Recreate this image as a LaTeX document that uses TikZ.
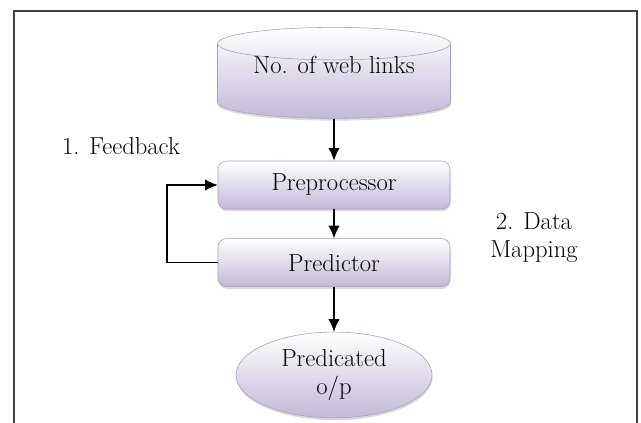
\documentclass[tikz,border=0pt]{standalone}
\usepackage{tikz}
\usetikzlibrary{shapes.geometric, arrows.meta, positioning, shadows}

\definecolor{lilac}{HTML}{C4B8D8}
\definecolor{lilacedge}{HTML}{A89DBA}

\begin{document}
\begin{tikzpicture}[
  font=\fontsize{17.5}{20}\selectfont,
  stage/.style={draw=lilacedge, rounded corners=6pt, top color=white, bottom color=lilac,
    minimum width=5.8cm, minimum height=1.2cm,
    drop shadow={shadow xshift=0.4pt, shadow yshift=-1.6pt, opacity=0.3}},
  flow/.style={-{Latex[length=9pt, width=8pt]}, thick}
]
  \useasboundingbox (0,0) rectangle (16.025,10.575);
  % frame
  \draw[thick, black!75] (0.35,-0.2) -- (0.35,10.3) -- (15.925,10.3) -- (15.925,-0.2);
  \node[cylinder, shape border rotate=90, aspect=0.19, draw=lilacedge, top color=white,
    bottom color=lilac, minimum width=5.825cm, minimum height=2.275cm,
    drop shadow={shadow xshift=0.4pt, shadow yshift=-1.6pt, opacity=0.3}] (links) at (8.35,8.49) {\phantom{No. of web links}};
  \node (linkstxt) at ([yshift=0.45cm]links.center) {No. of web links};
  \node[stage] (pre) at (8.35,5.95) {Preprocessor};
  \node[stage] (pred) at (8.35,4.01) {Predictor};
  \node[ellipse, draw=lilacedge, top color=white, bottom color=lilac,
    minimum width=4.9cm, minimum height=2.1cm, align=center,
    drop shadow={shadow xshift=0.4pt, shadow yshift=-1.6pt, opacity=0.3}] (out) at (8.35,1.2) {Predicated\\o/p};
  \node (fb) at (3.025,6.925) {1. Feedback};
  \node[align=center] (map) at (13.35,4.625) {2. Data\\Mapping};
  \coordinate (loop) at (4.175,0);
  \draw[flow] (links) -- (pre);
  \draw[flow] (pre) -- (pred);
  \draw[flow] (pred) -- (out);
  \draw[flow] (pred.west) -- (loop |- pred.west) |- (pre.west);
\end{tikzpicture}
\end{document}
